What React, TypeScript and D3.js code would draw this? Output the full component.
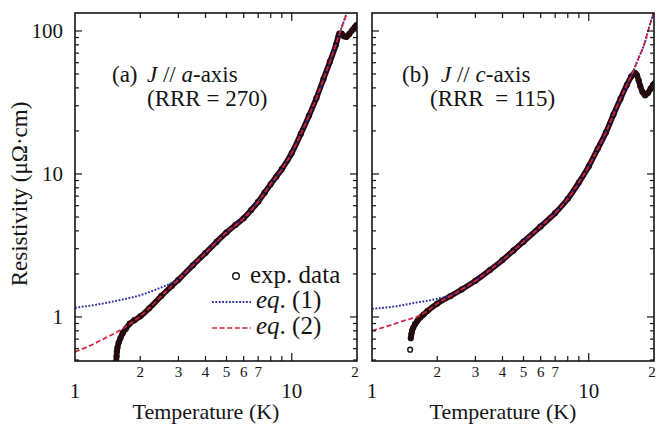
import React from 'react';
import * as d3 from 'd3';

// ---------- data (T in K, resistivity in µΩ·cm) ----------
const expA: [number, number][] = [
  [1.55, 0.49], [1.555, 0.53], [1.56, 0.57], [1.57, 0.61], [1.59, 0.66], [1.62, 0.71],
  [1.66, 0.77], [1.72, 0.83], [1.79, 0.9], [1.88, 0.95], [2.0, 1.01], [2.2, 1.15],
  [2.5, 1.4], [2.8, 1.65], [3.0, 1.82], [3.5, 2.3], [4.0, 2.8], [4.5, 3.35], [5.0, 3.9],
  [5.5, 4.4], [6.0, 4.9], [6.5, 5.6], [7.0, 6.4], [7.5, 7.4], [8.0, 8.5], [8.5, 9.6],
  [9.0, 10.8], [10, 14], [11, 19], [12, 25.5], [13, 34], [14, 46], [15, 61], [16, 80],
  [16.6, 96], [17.0, 96], [17.4, 92], [17.9, 91], [18.4, 95], [19.0, 101], [19.5, 106], [19.9, 110],
];
const eq1A: [number, number][] = [
  [1, 1.16], [1.3, 1.23], [1.6, 1.31], [2.0, 1.42], [2.3, 1.53], [2.6, 1.65], [3.0, 1.83],
  [3.5, 2.3], [4, 2.8], [5, 3.9], [6, 4.9], [7, 6.4], [8, 8.5], [9, 10.8], [10, 14],
  [11, 19], [12, 25.5], [13, 34], [14, 46], [15, 61], [16, 81], [17, 106], [18, 135],
];
const eq2A: [number, number][] = [
  [1, 0.57], [1.2, 0.64], [1.4, 0.72], [1.6, 0.8], [1.8, 0.9], [2.0, 1.01], [2.2, 1.15],
  [2.5, 1.4], [2.8, 1.65], [3.0, 1.82], [3.5, 2.3], [4, 2.8], [5, 3.9], [6, 4.9], [7, 6.4],
  [8, 8.5], [9, 10.8], [10, 14], [11, 19], [12, 25.5], [13, 34], [14, 46], [15, 61],
  [16, 81], [17, 106], [18, 135],
];

const expB: [number, number][] = [
  [1.5, 0.59], [1.51, 0.71], [1.52, 0.76], [1.53, 0.8], [1.55, 0.84], [1.58, 0.89],
  [1.62, 0.94], [1.67, 0.99], [1.73, 1.04], [1.8, 1.1], [2.0, 1.24], [2.3, 1.4],
  [2.6, 1.56], [3.0, 1.79], [3.5, 2.13], [4.0, 2.5], [4.5, 2.92], [5.0, 3.36], [6, 4.3],
  [7, 5.33], [8, 6.7], [9, 8.7], [10, 11.3], [11, 15], [12, 19.5], [13, 26], [14, 33.5],
  [15, 42], [15.7, 48], [16.3, 51], [16.7, 49], [17.0, 45], [17.3, 41], [17.7, 37.5],
  [18.2, 35.5], [18.8, 37], [19.3, 39.5], [19.8, 42], [20.1, 43],
];
const eq1B: [number, number][] = [
  [1, 1.14], [1.3, 1.19], [1.6, 1.26], [2.0, 1.34], [2.4, 1.45], [2.6, 1.56], [3.0, 1.79],
  [3.5, 2.13], [4, 2.5], [5, 3.36], [6, 4.3], [7, 5.33], [8, 6.7], [9, 8.7], [10, 11.3],
  [11, 15], [12, 19.5], [13, 26], [14, 33.5], [15, 42], [16, 52], [17, 65], [18, 80],
  [19, 106], [20, 137],
];
const eq2B: [number, number][] = [
  [1, 0.8], [1.2, 0.87], [1.4, 0.94], [1.6, 1.0], [1.8, 1.1], [2.0, 1.24], [2.3, 1.4],
  [2.6, 1.56], [3.0, 1.79], [3.5, 2.13], [4, 2.5], [5, 3.36], [6, 4.3], [7, 5.33], [8, 6.7],
  [9, 8.7], [10, 11.3], [11, 15], [12, 19.5], [13, 26], [14, 33.5], [15, 42], [16, 52],
  [17, 65], [18, 80], [19, 106], [20, 137],
];

const T_DOMAIN: [number, number] = [1, 20];
const RHO_DOMAIN: [number, number] = [0.492, 133.6];
const xMinorTicks = [2, 3, 4, 5, 6, 7, 8, 9];
const xMajorTicks = [10];
const xMajorLabels = [1, 10];
const xSmallLabels = [2, 3, 4, 5, 6, 7];
const xEdgeLabel = 20;
const yMajorTicks = [1, 10, 100];
const yMinorTicks = [0.5, 0.6, 0.7, 0.8, 0.9, 2, 3, 4, 5, 6, 7, 8, 9, 20, 30, 40, 50, 60, 70, 80, 90];
const yLabels = ['1', '10', '100'];

// ---------- layout ----------
const W = 659, H = 424;
const TOP = 13, BOTTOM = 361, PW = 282;
const FONT = '"Liberation Serif", "Times New Roman", serif';
const BLUE = '#2f2fa8';
const RED = '#d8203c';
const INK = '#141414';

type P = [number, number];

function Panel({ id, x0, exp, eq1, eq2, showY }: { id: string; x0: number; exp: P[]; eq1: P[]; eq2: P[]; showY: boolean }) {
  const x1 = x0 + PW;
  const x = d3.scaleLog().domain(T_DOMAIN).range([x0, x1]);
  const y = d3.scaleLog().domain(RHO_DOMAIN).range([BOTTOM, TOP]);
  const line = d3.line<P>().x(d => x(d[0])).y(d => y(d[1])).curve(d3.curveMonotoneX);

  // split the experimental points into runs wherever neighbouring points are visibly separated
  const runs: P[][] = [];
  let cur: P[] = [];
  exp.forEach((d, i) => {
    if (i > 0) {
      const p = exp[i - 1];
      const dx = Math.abs(x(d[0]) - x(p[0]));
      const dy = Math.abs(y(d[1]) - y(p[1]));
      if (dx < 3 && Math.hypot(dx, dy) > 9) { runs.push(cur); cur = []; }
    }
    cur.push(d);
  });
  runs.push(cur);

  const clipId = `clip-${id}`;
  return (
    <g>
      <defs>
        <clipPath id={clipId}>
          <rect x={x0} y={TOP} width={PW} height={BOTTOM - TOP} />
        </clipPath>
      </defs>
      <g clipPath={`url(#${clipId})`}>
        {exp.map((d, i) => (
          <circle key={i} cx={x(d[0])} cy={y(d[1])} r={2.4} fill="none" stroke="#111" strokeWidth={1.4} />
        ))}
        {runs.filter(r => r.length > 1).map((r, i) => (
          <path key={i} d={line(r) || ''} fill="none" stroke="#24090f" strokeWidth={5.6} strokeLinejoin="round" strokeLinecap="round" />
        ))}
        <path d={line(eq1) || ''} fill="none" stroke={BLUE} strokeWidth={2} strokeDasharray="1.8,1.6" />
        <path d={line(eq2) || ''} fill="none" stroke={RED} strokeWidth={1.7} strokeDasharray="5,2.6" />
      </g>
      <rect x={x0} y={TOP} width={PW} height={BOTTOM - TOP} fill="none" stroke={INK} strokeWidth={1.6} />
      {/* x ticks (inward, bottom & top) */}
      {xMinorTicks.map(t => (
        <g key={`xm${t}`}>
          <line x1={x(t)} x2={x(t)} y1={BOTTOM} y2={BOTTOM - 5} stroke={INK} strokeWidth={1.2} />
          <line x1={x(t)} x2={x(t)} y1={TOP} y2={TOP + 5} stroke={INK} strokeWidth={1.2} />
        </g>
      ))}
      {xMajorTicks.map(t => (
        <g key={`xM${t}`}>
          <line x1={x(t)} x2={x(t)} y1={BOTTOM} y2={BOTTOM - 8} stroke={INK} strokeWidth={1.2} />
          <line x1={x(t)} x2={x(t)} y1={TOP} y2={TOP + 8} stroke={INK} strokeWidth={1.2} />
        </g>
      ))}
      {/* y ticks (inward, left & right) */}
      {yMinorTicks.map(v => (
        <g key={`ym${v}`}>
          <line x1={x0} x2={x0 + 4} y1={y(v)} y2={y(v)} stroke={INK} strokeWidth={1.2} />
          <line x1={x1} x2={x1 - 4} y1={y(v)} y2={y(v)} stroke={INK} strokeWidth={1.2} />
        </g>
      ))}
      {yMajorTicks.map(v => (
        <g key={`yM${v}`}>
          <line x1={x0} x2={x0 + 7} y1={y(v)} y2={y(v)} stroke={INK} strokeWidth={1.2} />
          <line x1={x1} x2={x1 - 7} y1={y(v)} y2={y(v)} stroke={INK} strokeWidth={1.2} />
        </g>
      ))}
      {showY && yMajorTicks.map((v, i) => (
        <text key={`yl${v}`} x={x0 - 12} y={y(v) + 7} textAnchor="end" fontSize={21} fontFamily={FONT} fill={INK}>{yLabels[i]}</text>
      ))}
      {/* x labels */}
      {xMajorLabels.map(t => (
        <text key={`xl${t}`} x={x(t)} y={398} textAnchor="middle" fontSize={21} fontFamily={FONT} fill={INK}>{t}</text>
      ))}
      {xSmallLabels.map(t => (
        <text key={`xs${t}`} x={x(t)} y={377} textAnchor="middle" fontSize={15} fontFamily={FONT} fill={INK}>{t}</text>
      ))}
      <text x={x(xEdgeLabel) - 2} y={377} textAnchor="middle" fontSize={15} fontFamily={FONT} fill={INK}>{String(xEdgeLabel).slice(0, 1)}</text>
      <text x={x0 + 131} y={419} textAnchor="middle" fontSize={22} fontFamily={FONT} fill={INK}>Temperature (K)</text>
    </g>
  );
}

export default function App() {
  return (
    <svg width={W} height={H} viewBox={`0 0 ${W} ${H}`} style={{ position: 'absolute', left: 0, top: 0, background: '#fff' }}>
      <rect x={0} y={0} width={W} height={H} fill="#fff" />
      <Panel id="a" x0={75} exp={expA} eq1={eq1A} eq2={eq2A} showY={true} />
      <Panel id="b" x0={372} exp={expB} eq1={eq1B} eq2={eq2B} showY={false} />

      {/* y axis title */}
      <text transform="translate(27,194) rotate(-90)" textAnchor="middle" fontSize={23} fontFamily={FONT} fill={INK}>
        Resistivity (μΩ·cm)
      </text>

      {/* panel annotations */}
      <g fontFamily={FONT} fontSize={23} fill={INK}>
        <text x={112} y={82}>(a)</text>
        <text x={147} y={82}><tspan fontStyle="italic">J</tspan> // <tspan fontStyle="italic">a</tspan>-axis</text>
        <text x={147} y={106}>(RRR = 270)</text>
        <text x={402} y={82}>(b)</text>
        <text x={441} y={82}><tspan fontStyle="italic">J</tspan> // <tspan fontStyle="italic">c</tspan>-axis</text>
        <text x={430} y={106} style={{ whiteSpace: 'pre' }}>(RRR  = 115)</text>
      </g>

      {/* legend */}
      <g fontFamily={FONT} fontSize={25} fill={INK}>
        <circle cx={236} cy={276} r={3.3} fill="none" stroke={INK} strokeWidth={1.4} />
        <text x={250} y={283}>exp. data</text>
        <line x1={212} x2={251} y1={302} y2={302} stroke={BLUE} strokeWidth={2} strokeDasharray="1.8,1.6" />
        <text x={256} y={308}><tspan fontStyle="italic">eq</tspan>. (1)</text>
        <line x1={212} x2={251} y1={328} y2={328} stroke={RED} strokeWidth={1.7} strokeDasharray="5,2.6" />
        <text x={256} y={334}><tspan fontStyle="italic">eq</tspan>. (2)</text>
      </g>
    </svg>
  );
}
